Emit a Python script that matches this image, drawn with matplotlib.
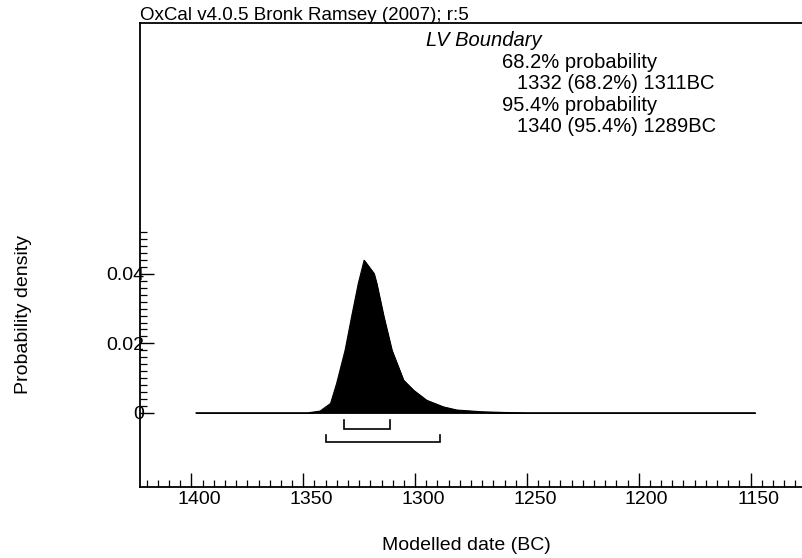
import numpy as np
import matplotlib as mpl; mpl.use("Agg")
import matplotlib.pyplot as plt
from matplotlib.transforms import ScaledTranslation

mpl.rcParams.update({
    "font.family": ["Liberation Sans", "DejaVu Sans"],
    "font.size": 13,
})

# ── data ─────────────────────────────────────────────────────────────────────
YEARS = [1398, 1348, 1342.5, 1337.8, 1335.1, 1331.3, 1328.4, 1325.4, 1322.8,
         1318.4, 1317.2, 1314.0, 1310.4, 1305.2, 1300.7, 1294.8, 1287.3,
         1281.3, 1270, 1260, 1250, 1148]
DENS = [0, 0, 0.0005, 0.0027, 0.0084, 0.0180, 0.0276, 0.0372, 0.0439,
        0.0401, 0.0372, 0.0276, 0.0180, 0.0094, 0.0065, 0.0036, 0.0017,
        0.0008, 0.0003, 0.0001, 0, 0]
RANGE_68 = (1332, 1311)
RANGE_95 = (1340, 1289)
XTICKS = [1400, 1350, 1300, 1250, 1200, 1150]
YTICKS = [0, 0.02, 0.04]
YTICKLABELS = ["0", "0.02", "0.04"]
LINES = ["68.2% probability", "1332 (68.2%) 1311BC",
         "95.4% probability", "1340 (95.4%) 1289BC"]

W, H = 802, 558
fig = plt.figure(figsize=(W / 100, H / 100), dpi=100)
L, R, T, B = 140, 802, 23, 486.5
ax = fig.add_axes([L / W, 1 - B / H, (R - L) / W, (B - T) / H])

ax.fill_between(YEARS, DENS, 0, color="black", lw=0.8, zorder=3)
ax.plot(YEARS, DENS, color="black", lw=0.8, zorder=3)

# range brackets
for (a, b), yb, yt in [(RANGE_68, -0.0046, -0.0022), (RANGE_95, -0.0085, -0.0063)]:
    ax.plot([a, a, b, b], [yt, yb, yb, yt], color="black", lw=1.2,
            solid_joinstyle="miter")

ax.set_xlim(1423, 1127)
ax.set_ylim(-0.0212, 0.1122)

ax.spines["right"].set_visible(False)
for s in ["left", "top", "bottom"]:
    ax.spines[s].set_linewidth(1.3)

ax.set_xticks(XTICKS)
ax.set_xticks(np.arange(1420, 1127, -5), minor=True)
ax.set_yticks(YTICKS)
ax.set_yticklabels(YTICKLABELS)
ax.set_yticks(np.arange(0, 0.053, 0.002), minor=True)
ax.tick_params(axis="both", which="major", direction="in", length=10,
               width=1.0, labelsize=14)
ax.tick_params(axis="both", which="minor", direction="in", length=5, width=0.9)
ax.tick_params(axis="x", pad=3)
ax.tick_params(axis="y", pad=-3)
shift = ScaledTranslation(8 / 100, 0, fig.dpi_scale_trans)
for lab in ax.get_xticklabels():
    lab.set_transform(lab.get_transform() + shift)

# title (top spine acts as underline)
fig.text(L / W, 1 - 20 / H, "OxCal v4.0.5 Bronk Ramsey (2007); r:5",
         ha="left", va="baseline", fontsize=13.5)

# summary text block
fig.text(426 / W, 1 - 46.3 / H, "LV Boundary", style="italic",
         ha="left", va="baseline", fontsize=14.5)
for i, s in enumerate(LINES):
    x = 502 if i % 2 == 0 else 516.7
    fig.text(x / W, 1 - (67.8 + 21.5 * i) / H, s,
             ha="left", va="baseline", fontsize=14.5)

fig.text(23.5 / W, 1 - 315 / H, "Probability density", rotation=90,
         ha="center", va="center", fontsize=14)
fig.text(466 / W, 1 - 545 / H, "Modelled date (BC)",
         ha="center", va="center", fontsize=14)

fig.savefig("out.png", dpi=100, facecolor="white")
